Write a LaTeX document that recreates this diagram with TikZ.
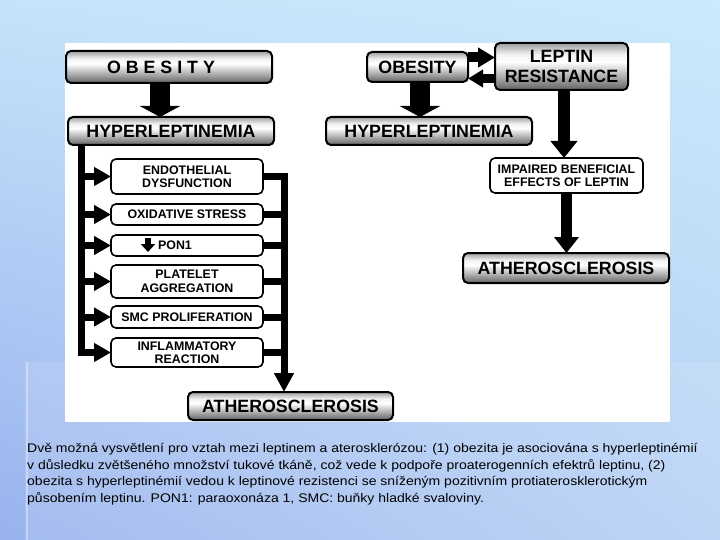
\documentclass[tikz,border=0pt]{standalone}
\usepackage{fontspec}
\setmainfont{Liberation Sans}
\newfontfamily\captionfont[FakeStretch=1.12]{Liberation Sans}
\usepackage{xcolor}
\usepackage{tikz}
\usetikzlibrary{calc}
\usetikzlibrary{positioning}
\usetikzlibrary{arrows.meta}
\usetikzlibrary{shadings}

\definecolor{bgUL}{HTML}{C6E3FA}
\definecolor{bgUR}{HTML}{CBEAFB}
\definecolor{bgLL}{HTML}{98B2EE}
\definecolor{bgLR}{HTML}{B6D0F5}

\pgfdeclareverticalshading{greyshade}{100bp}{
  color(0bp)=(black!62); color(25bp)=(black!62); color(33bp)=(black!45);
  color(55bp)=(white); color(63bp)=(black!5); color(72bp)=(black!30);
  color(75bp)=(black!38); color(100bp)=(black!38)}

\begin{document}
\begin{tikzpicture}[
    x = 1pt,
    y = -1pt,
    greyf/.style = {
      rectangle,
      draw=black,
      line width=2pt,
      rounded corners=5pt,
      shading=greyshade,
      font=\fontsize{17.8}{20}\selectfont\bfseries,
      align=center,
      inner sep=0pt,
      outer sep=0pt
    },
    whitef/.style = {
      rectangle,
      draw=black,
      line width=1.6pt,
      rounded corners=5pt,
      fill=white,
      minimum width=152pt,
      font=\fontsize{12.4}{13.5}\selectfont\bfseries,
      align=center,
      inner sep=0pt,
      outer sep=0pt
    },
    barf/.style = {
      line width=7pt,
      line join=miter
    },
    bartip/.style = {
      -{Triangle[width=18pt,length=17pt]}
    },
    blockf/.style = {
      line width=20pt,
      -{Triangle[width=40pt,length=11pt]}
    }
  ]
    \useasboundingbox (0,0) rectangle (720,540);
    \shade[upper left=bgUL, upper right=bgUR, lower left=bgLL, lower right=bgLR]
      (0,0) rectangle (720,540);
    \fill[white, opacity=0.12] (25,362) rectangle (720,540);
    \draw[white, opacity=0.35, line width=2pt] (27,362) -- (27,540);
    \fill[white] (65,43) rectangle (670,422);

    % left chain
    \node[greyf, minimum width=206pt, minimum height=32pt] (obesL) at (169,67) {\hspace*{-16pt}O B E S I T Y};
    \node[greyf, minimum width=206pt, minimum height=28pt] (hyperL) at (171,131) {HYPERLEPTINEMIA};
    \node[whitef, minimum height=35pt] (endo) at (187,176.5) {ENDOTHELIAL\\DYSFUNCTION};
    \node[whitef, minimum height=21pt, below=10pt of endo] (oxid) {OXIDATIVE STRESS};
    \node[whitef, minimum height=21pt, below=10pt of oxid] (pon) {\hspace*{-24pt}PON1};
    \node[whitef, minimum height=33pt, below=9pt of pon] (plate) {PLATELET\\AGGREGATION};
    \node[whitef, minimum height=22pt, below=8pt of plate] (smc) {SMC PROLIFERATION};
    \node[whitef, minimum height=29pt, below=10pt of smc] (inflam) {INFLAMMATORY\\REACTION};
    \node[greyf, minimum width=205pt, minimum height=28pt] (atherL) at (290.5,406) {ATHEROSCLEROSIS};

    % right chain
    \node[greyf, minimum width=101pt, minimum height=30pt] (obesR) at (417.5,67) {OBESITY};
    \node[greyf, minimum width=133pt, minimum height=47pt] (leptin) at (561.5,66.5) {LEPTIN\\RESISTANCE};
    \node[greyf, minimum width=206pt, minimum height=28pt] (hyperR) at (429,131) {HYPERLEPTINEMIA};
    \node[whitef, minimum width=153pt, minimum height=35pt] (impair) at (566.5,175.5) {IMPAIRED BENEFICIAL\\EFFECTS OF LEPTIN};
    \node[greyf, minimum width=206pt, minimum height=30pt] (atherR) at (566,268) {ATHEROSCLEROSIS};

    \coordinate (dropL) at ($(obesL.south)+(-9,0)$);
    \coordinate (dropR) at ($(obesR.south)+(2.5,0)$);
    \coordinate (dropC) at ($(leptin.south)+(2.5,0)$);
    \coordinate (upA) at ($(obesR.east)+(0,-9.5)$);
    \coordinate (dnA) at ($(obesR.east)+(0,11.5)$);
    \coordinate (barL) at (81,145);
    \coordinate (barR) at (284,172);

    \draw[blockf] (dropL) -- (dropL |- hyperL.north);
    \draw[blockf] (dropR) -- (dropR |- hyperR.north);
    \draw[line width=10pt, -{Triangle[width=19pt,length=17pt]}] (upA) -- (upA -| leptin.west);
    \draw[line width=9pt, -{Triangle[width=17pt,length=15pt]}] (dnA -| leptin.west) -- (dnA);
    \draw[line width=12pt, -{Triangle[width=26pt,length=17pt]}] (dropC) -- (dropC |- impair.north);
    \draw[line width=11pt, -{Triangle[width=24pt,length=16pt]}] (impair.south) -- (impair.south |- atherR.north);

    \draw[barf, bartip] (barL) |- (inflam);
    \foreach \b in {endo,oxid,pon,plate,smc}
      \draw[barf, bartip] (barL |- \b) -- (\b);
    \draw[barf, -{Triangle[width=19pt,length=19pt]}] (endo.east) -| (atherL.north -| barR);
    \foreach \b in {oxid,pon,plate,smc,inflam}
      \draw[barf] (\b.east) -- (\b -| barR);
    \draw[line width=6pt, -{Triangle[width=14pt,length=8pt]}]
      ($(pon.center)+(-39,-7.5)$) -- ++(0,14);

    \node[anchor=north west, align=left, inner sep=0pt,
      font=\captionfont\fontsize{12.5}{16.7}\selectfont] (caption) at (27,443)
      {Dvě možná vysvětlení pro vztah mezi leptinem a aterosklerózou: (1) obezita je asociována s hyperleptinémií\\
       v důsledku zvětšeného množství tukové tkáně, což vede k podpoře proaterogenních efektrů leptinu, (2)\\
       obezita s hyperleptinémií vedou k leptinové rezistenci se sníženým pozitivním protiaterosklerotickým\\
       působením leptinu. PON1: paraoxonáza 1, SMC: buňky hladké svaloviny.};
  \end{tikzpicture}
\end{document}
